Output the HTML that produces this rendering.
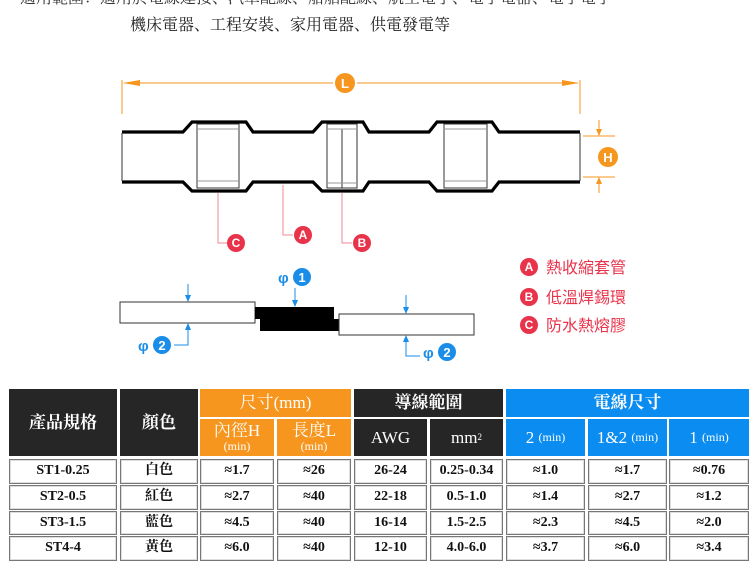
<!DOCTYPE html>
<html><head><meta charset="utf-8"><style>
body{margin:0;width:752px;height:581px;background:#fff;position:relative;overflow:hidden;font-family:"Liberation Serif","Noto Serif CJK SC",serif}
.t{position:absolute;font-size:16px;color:#222;white-space:nowrap}
.c{position:absolute;display:flex;align-items:center;justify-content:center;text-align:center;box-sizing:border-box;font-family:"Liberation Serif","Noto Serif CJK SC",serif;line-height:1.05}
.h{background:#262626;color:#fff;font-size:17px;font-weight:bold}
.o{background:#f7961f;color:#fff;font-size:17px}
.b{background:#0a8cf0;color:#fff;font-size:17px}
.d{border:1px solid #777;box-shadow:inset 0 0 0 1px #ddd;background:#fff;color:#111;font-size:14px;font-weight:bold}
small{font-size:12px}
</style></head><body>
<div class="t" style="left:20px;top:-15px;color:#333">適用範圍：適用於電線連接、汽車配線、船舶配線、航空電子、電子電器、電子電子</div>
<div class="t" style="left:130px;top:12px">機床電器、工程安裝、家用電器、供電發電等</div>
<svg width="752" height="380" style="position:absolute;left:0;top:0" font-family="Liberation Sans,sans-serif">
<g stroke="#f7961f" stroke-width="1" fill="#f7961f">
<line x1="122" y1="80" x2="122" y2="114"/><line x1="580" y1="80" x2="580" y2="114"/>
<line x1="124" y1="83" x2="333" y2="83"/><line x1="357" y1="83" x2="578" y2="83"/>
<polygon points="123,83 140,80 140,86" stroke="none"/><polygon points="579,83 562,80 562,86" stroke="none"/>
<line x1="583" y1="136" x2="615" y2="136"/><line x1="583" y1="177" x2="615" y2="177"/>
<line x1="599" y1="120" x2="599" y2="135"/><line x1="599" y1="178" x2="599" y2="193"/>
<polygon points="599,136 596,129 602,129" stroke="none"/><polygon points="599,177 596,184 602,184" stroke="none"/>
<circle cx="345" cy="83" r="10" stroke="none"/><circle cx="608" cy="157" r="10" stroke="none"/>
</g>
<text x="345" y="88" fill="#fff" font-size="13" font-weight="bold" text-anchor="middle">L</text>
<text x="608" y="162" fill="#fff" font-size="13" font-weight="bold" text-anchor="middle">H</text>
<g fill="none" stroke="#000" stroke-width="3.2">
<polyline points="122,132 183,132 192,122 246,122 253,132 313,132 322,122 363,122 369,132 429,132 437,122 492,122 499,132 580,132"/>
<polyline points="122,182 183,182 192,191 246,191 253,182 313,182 322,191 363,191 369,182 429,182 437,191 492,191 499,182 580,182"/>
</g>
<g fill="none" stroke="#333" stroke-width="1">
<line x1="122" y1="133" x2="122" y2="181"/><line x1="580" y1="133" x2="580" y2="181"/>
<rect x="197" y="124" width="42" height="64"/><line x1="197" y1="129" x2="239" y2="129" stroke="#999"/><line x1="197" y1="181" x2="239" y2="181" stroke="#999"/>
<rect x="327" y="124" width="30" height="64"/><line x1="342" y1="129" x2="342" y2="188"/><line x1="327" y1="129" x2="357" y2="129" stroke="#999"/><line x1="327" y1="183" x2="357" y2="183" stroke="#999"/>
<rect x="444" y="124" width="43" height="64"/><line x1="444" y1="129" x2="487" y2="129" stroke="#999"/><line x1="444" y1="181" x2="487" y2="181" stroke="#999"/>
</g>
<g fill="none" stroke="#f08a98" stroke-width="1">
<polyline points="218,193 218,243 228,243"/><polyline points="283,185 283,235 293,235"/><polyline points="342,193 342,243 352,243"/>
</g>
<g fill="#e8334a"><circle cx="236" cy="243" r="9"/><circle cx="303" cy="235" r="9"/><circle cx="362" cy="243" r="9"/>
<circle cx="529" cy="267" r="9"/><circle cx="529" cy="297" r="9"/><circle cx="529" cy="325" r="9"/></g>
<g fill="#fff" font-size="12" font-weight="bold" text-anchor="middle">
<text x="236" y="247">C</text><text x="303" y="239">A</text><text x="362" y="247">B</text>
<text x="529" y="271">A</text><text x="529" y="301">B</text><text x="529" y="329">C</text></g>
<g fill="#e8334a" font-size="16" font-family="Liberation Sans,Noto Sans CJK TC,sans-serif">
<text x="546" y="273">熱收縮套管</text><text x="546" y="303">低溫焊錫環</text><text x="546" y="331">防水熱熔膠</text></g>
<rect x="120" y="302" width="135" height="21" fill="#fff" stroke="#333"/>
<polygon points="255,307 334,307 334,319 339,319 339,331 260,331 260,319 255,319" fill="#000"/>
<rect x="339" y="314" width="135" height="21" fill="#fff" stroke="#333"/>
<g stroke="#1a8de8" fill="none" stroke-width="1">
<line x1="188" y1="284" x2="188" y2="298"/><polyline points="188,327 188,345 174,345"/>
<line x1="295" y1="288" x2="295" y2="303"/>
<line x1="406" y1="295" x2="406" y2="310"/><polyline points="406,339 406,356 420,356"/>
</g>
<g fill="#1a8de8">
<polygon points="188,302 185,295 191,295"/><polygon points="188,323 185,330 191,330"/>
<polygon points="295,307 292,300 298,300"/><polygon points="406,314 403,307 409,307"/><polygon points="406,335 403,342 409,342"/>
<circle cx="162" cy="345" r="9"/><circle cx="302" cy="277" r="9"/><circle cx="447" cy="352" r="9"/>
</g>
<g font-size="15" font-weight="bold" fill="#1a8de8"><text x="138" y="351">φ</text><text x="278" y="283">φ</text><text x="423" y="358">φ</text></g>
<g font-size="13" font-weight="bold" fill="#fff" text-anchor="middle"><text x="162" y="350">2</text><text x="302" y="282">1</text><text x="447" y="357">2</text></g>
</svg>
<div class="c h" style="left:9px;top:389px;width:108px;height:67px">產品規格</div>
<div class="c h" style="left:120px;top:389px;width:78px;height:67px">顏色</div>
<div class="c o" style="left:200px;top:389px;width:151px;height:28px">尺寸(mm)</div>
<div class="c o" style="left:200px;top:419px;width:74px;height:37px;flex-direction:column">內徑H<small>(min)</small></div>
<div class="c o" style="left:277px;top:419px;width:74px;height:37px;flex-direction:column">長度L<small>(min)</small></div>
<div class="c h" style="left:354px;top:389px;width:149px;height:28px">導線範圍</div>
<div class="c h" style="left:354px;top:419px;width:73px;height:37px;font-weight:normal">AWG</div>
<div class="c h" style="left:430px;top:419px;width:73px;height:37px;font-weight:normal">mm<sup style="font-size:9px">2</sup></div>
<div class="c b" style="left:506px;top:389px;width:243px;height:28px;font-weight:bold">電線尺寸</div>
<div class="c b" style="left:506px;top:419px;width:79px;height:37px">2&nbsp;<small>(min)</small></div>
<div class="c b" style="left:588px;top:419px;width:79px;height:37px">1&amp;2&nbsp;<small>(min)</small></div>
<div class="c b" style="left:669px;top:419px;width:80px;height:37px">1&nbsp;<small>(min)</small></div>
<div id="rows"></div>
<script>
var cols=[[9,108],[120,78],[200,74],[277,74],[354,73],[430,73],[506,79],[588,79],[669,80]];
var ys=[[459,25],[485,25],[511,24],[536,25]];
var data=[["ST1-0.25","白色","≈1.7","≈26","26-24","0.25-0.34","≈1.0","≈1.7","≈0.76"],
["ST2-0.5","紅色","≈2.7","≈40","22-18","0.5-1.0","≈1.4","≈2.7","≈1.2"],
["ST3-1.5","藍色","≈4.5","≈40","16-14","1.5-2.5","≈2.3","≈4.5","≈2.0"],
["ST4-4","黃色","≈6.0","≈40","12-10","4.0-6.0","≈3.7","≈6.0","≈3.4"]];
var h="";data.forEach(function(r,i){r.forEach(function(v,j){h+='<div class="c d" style="left:'+cols[j][0]+'px;top:'+ys[i][0]+'px;width:'+cols[j][1]+'px;height:'+ys[i][1]+'px">'+v+'</div>';});});
document.getElementById("rows").innerHTML=h;
</script>
</body></html>
